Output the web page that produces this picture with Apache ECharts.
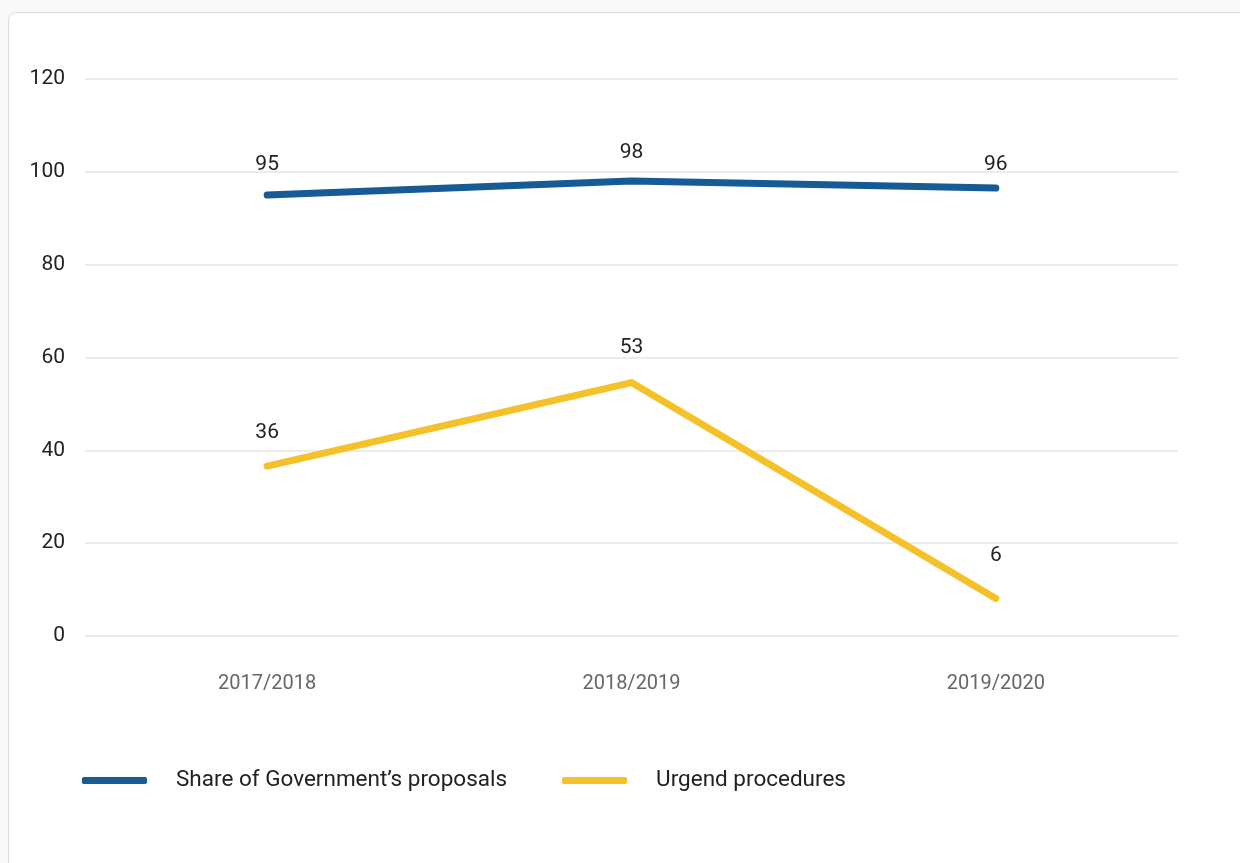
<!DOCTYPE html>
<html>
<head>
<meta charset="utf-8">
<script src="https://cdn.jsdelivr.net/npm/echarts@6/dist/echarts.min.js"></script>
<style>
  html, body { margin: 0; padding: 0; background: #f9f9f9; width: 1240px; height: 863px; overflow: hidden; }
  #card { position: absolute; left: 8px; top: 12px; width: 1300px; height: 900px; background: #fff; border: 1px solid #dcdcdc; border-radius: 8px; }
  #chart { position: absolute; left: 0; top: 0; width: 1240px; height: 863px; }
</style>
</head>
<body>
<div id="card"></div>
<div id="chart"></div>
<script>
const categories = ['2017/2018', '2018/2019', '2019/2020'];
const seriesNames = ['Share of Government\u2019s proposals', 'Urgend procedures'];
const govValues = [95, 98, 96.5];
const govLabels = ['95', '98', '96'];
const urgValues = [36.6, 54.6, 8.1];
const urgLabels = ['36', '53', '6'];
const yTicks = [0, 20, 40, 60, 80, 100, 120];

// layout: label distance above each point (pixels)
const govLabelGap = [20, 18, 13];
const urgLabelGap = [23, 24, 32];

const chart = echarts.init(document.getElementById('chart'));
const buildData = (vals, labels, gaps) => vals.map((v, i) => ({
  value: v,
  label: { distance: gaps[i], formatter: labels[i] }
}));
const labelStyle = {
  show: true, position: 'top', distance: 20,
  color: '#222', fontSize: 21, fontFamily: 'Roboto'
};
chart.setOption({
  animation: false,
  textStyle: { fontFamily: 'Roboto' },
  grid: { left: 85, right: 62, top: 79, bottom: 227, containLabel: false },
  legend: {
    left: 77, top: 764,
    itemWidth: 65, itemHeight: 7, itemGap: 55,
    icon: 'roundRect',
    textStyle: { fontSize: 22.5, color: '#222', fontFamily: 'Roboto', padding: [0, 0, 0, 24] },
    data: seriesNames
  },
  xAxis: {
    type: 'category', data: categories, boundaryGap: true,
    axisLine: { show: false }, axisTick: { show: false },
    axisLabel: { color: '#666', fontSize: 20, margin: 38 }
  },
  yAxis: {
    type: 'value', min: yTicks[0], max: yTicks[yTicks.length - 1], interval: 20,
    axisLine: { show: false }, axisTick: { show: false },
    axisLabel: { color: '#222', fontSize: 21, margin: 20, verticalAlign: 'middle', padding: [0, 0, 6, 0] },
    splitLine: { lineStyle: { color: '#e4e4e4', width: 1.5 } }
  },
  series: [
    {
      name: seriesNames[0], type: 'line', data: buildData(govValues, govLabels, govLabelGap),
      showSymbol: true, symbol: 'circle', symbolSize: 0.01,
      lineStyle: { color: '#165b95', width: 7, cap: 'round', join: 'round' },
      itemStyle: { color: '#165b95' },
      label: labelStyle
    },
    {
      name: seriesNames[1], type: 'line', data: buildData(urgValues, urgLabels, urgLabelGap),
      showSymbol: true, symbol: 'circle', symbolSize: 0.01,
      lineStyle: { color: '#f4c12a', width: 7, cap: 'round', join: 'round' },
      itemStyle: { color: '#f4c12a' },
      label: labelStyle
    }
  ]
});
</script>
</body>
</html>
